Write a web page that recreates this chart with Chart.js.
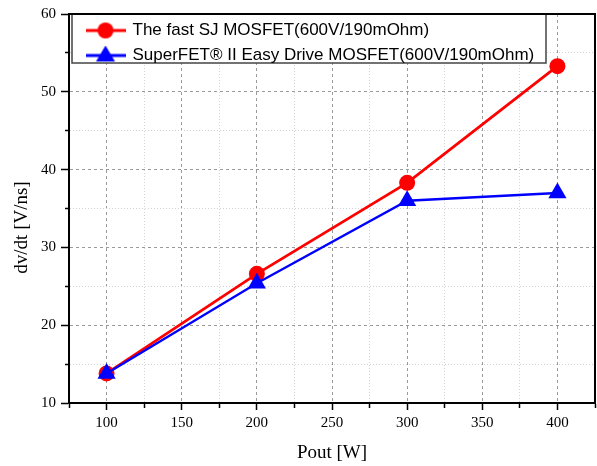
<!DOCTYPE html>
<html>
<head>
<meta charset="utf-8">
<script src="https://cdn.jsdelivr.net/npm/chart.js@4"></script>
<style>
  html, body { margin: 0; padding: 0; background: #fff; }
</style>
</head>
<body>
<canvas id="chart1" width="597" height="466"></canvas>
<script>
// values
const powerW = [100, 200, 300, 400];
const fastSJ = [13.8, 26.6, 38.3, 53.3];
const superFET = [13.8, 25.4, 36.0, 37.0];

const seriesNames = [
    'The fast SJ MOSFET(600V/190mOhm)',
    'SuperFET® II Easy Drive MOSFET(600V/190mOhm)'
];

const serif = "'Liberation Serif', 'Times New Roman', serif";
const sans = "'Liberation Sans', Arial, sans-serif";

// little line + marker icons for the legend
function legendIcon(color, shape) {
    const c = document.createElement('canvas');
    c.width = 40;
    c.height = 20;
    const g = c.getContext('2d');
    g.strokeStyle = color;
    g.fillStyle = color;
    g.lineWidth = 3;
    g.beginPath();
    g.moveTo(0, 10);
    g.lineTo(40, 10);
    g.stroke();
    g.beginPath();
    if (shape === 'circle') {
        g.arc(20, 10, 8, 0, Math.PI * 2);
    } else {
        g.moveTo(20, 0);
        g.lineTo(29.5, 16);
        g.lineTo(10.5, 16);
        g.closePath();
    }
    g.fill();
    return c;
}
const icons = [legendIcon('#ff0000', 'circle'), legendIcon('#0000ff', 'triangle')];

function isMajor(v, step) {
    return Math.abs(v / step - Math.round(v / step)) < 1e-6;
}

const frame = {
    id: 'frame',
    afterLayout(chart) {
        chart.legend.left += 10;
        chart.legend.top += 14;
    },
    beforeDatasetsDraw(chart) {
        const { ctx, chartArea: a } = chart;
        ctx.save();
        ctx.fillStyle = '#fff';
        ctx.fillRect(a.left + 3, a.top, 474, 49);
        ctx.strokeStyle = '#444';
        ctx.lineWidth = 1.5;
        ctx.strokeRect(a.left + 3, a.top, 474, 49);
        ctx.restore();
        chart.legend.draw();
    },
    afterDraw(chart) {
        const { ctx, chartArea: a } = chart;
        ctx.save();
        ctx.strokeStyle = '#000';
        ctx.lineWidth = 2;
        ctx.beginPath();
        ctx.moveTo(a.left, a.top);
        ctx.lineTo(a.right, a.top);
        ctx.lineTo(a.right, a.bottom);
        ctx.stroke();
        ctx.restore();
    }
};

const ctx = document.getElementById('chart1');

const config = {
    type: 'line',
    data: {
        labels: powerW,
        datasets: [{
            label: seriesNames[0],
            data: powerW.map((x, i) => ({ x: x, y: fastSJ[i] })),
            borderColor: '#ff0000',
            backgroundColor: '#ff0000',
            borderWidth: 2.8,
            pointStyle: 'circle',
            pointRadius: 8,
            pointBorderWidth: 0,
            order: 1
        },
        {
            label: seriesNames[1],
            data: powerW.map((x, i) => ({ x: x, y: superFET[i] })),
            borderColor: '#0000ff',
            backgroundColor: '#0000ff',
            borderWidth: 2.4,
            pointStyle: 'triangle',
            pointRadius: 10.5,
            pointBorderWidth: 0,
            order: 0
        }]
    },
    options: {
        responsive: false,
        animation: false,
        layout: { autoPadding: false, padding: { top: 14, right: 2, left: 0, bottom: 0 } },
        plugins: {
            tooltip: { enabled: false },
            legend: {
                position: 'chartArea',
                align: 'start',
                labels: {
                    usePointStyle: true,
                    pointStyleWidth: 37,
                    padding: 8,
                    color: '#000',
                    font: { family: sans, size: 17 },
                    generateLabels: (chart) => seriesNames.map((name, i) => ({
                        text: name,
                        pointStyle: icons[i],
                        fontColor: '#000',
                        fillStyle: 'transparent',
                        strokeStyle: 'transparent',
                        lineWidth: 0,
                        hidden: false,
                        datasetIndex: i
                    }))
                }
            }
        },
        scales: {
            x: {
                type: 'linear',
                min: 75,
                max: 425,
                afterFit: (s) => { s.height = 63; s.paddingLeft = 0; s.paddingRight = 0; },
                ticks: {
                    stepSize: 25,
                    autoSkip: false,
                    maxRotation: 0,
                    padding: 4,
                    color: '#000',
                    font: { family: serif, size: 15 },
                    callback: (v) => isMajor(v, 50) ? v : ''
                },
                grid: {
                    color: (c) => (!c.tick || c.tick.value === 75 || c.tick.value === 425) ? 'rgba(0,0,0,0)'
                        : (isMajor(c.tick.value, 50) ? '#9a9a9a' : '#d2d2d2'),
                    lineWidth: 1,
                    tickColor: '#000',
                    tickWidth: 1.5,
                    tickLength: 7,
                    tickBorderDash: (c) => (c.tick && !isMajor(c.tick.value, 50)) ? [4, 20] : []
                },
                border: {
                    color: '#000',
                    width: 2,
                    dash: (c) => !c.tick ? [] : (isMajor(c.tick.value, 50) ? [3, 3] : [1, 2])
                },
                title: {
                    display: true,
                    text: 'Pout [W]',
                    color: '#000',
                    font: { family: serif, size: 19 },
                    padding: { top: 0, bottom: 2 }
                }
            },
            y: {
                type: 'linear',
                min: 10,
                max: 60,
                afterFit: (s) => { s.width = 69; s.paddingTop = 0; s.paddingBottom = 0; },
                ticks: {
                    stepSize: 5,
                    autoSkip: false,
                    padding: 5,
                    color: '#000',
                    font: { family: serif, size: 15 },
                    callback: (v) => isMajor(v, 10) ? v : ''
                },
                grid: {
                    color: (c) => (!c.tick || c.tick.value === 10 || c.tick.value === 60) ? 'rgba(0,0,0,0)'
                        : (isMajor(c.tick.value, 10) ? '#9a9a9a' : '#d2d2d2'),
                    lineWidth: 1,
                    tickColor: '#000',
                    tickWidth: 1.5,
                    tickLength: 8,
                    // left ticks are stroked from the outer end, so skip the first 4px
                    tickBorderDash: (c) => (c.tick && !isMajor(c.tick.value, 10)) ? [0, 4, 4, 20] : []
                },
                border: {
                    color: '#000',
                    width: 2,
                    dash: (c) => !c.tick ? [] : (isMajor(c.tick.value, 10) ? [3, 3] : [1, 2])
                },
                title: {
                    display: true,
                    // trailing spaces push the visible text a bit lower, like the original
                    text: 'dv/dt [V/ns]        ',
                    color: '#000',
                    font: { family: serif, size: 19 },
                    padding: { top: 11, bottom: 0 }
                }
            }
        }
    },
    plugins: [frame]
};

let chart = new Chart(ctx, config);
</script>
</body>
</html>
